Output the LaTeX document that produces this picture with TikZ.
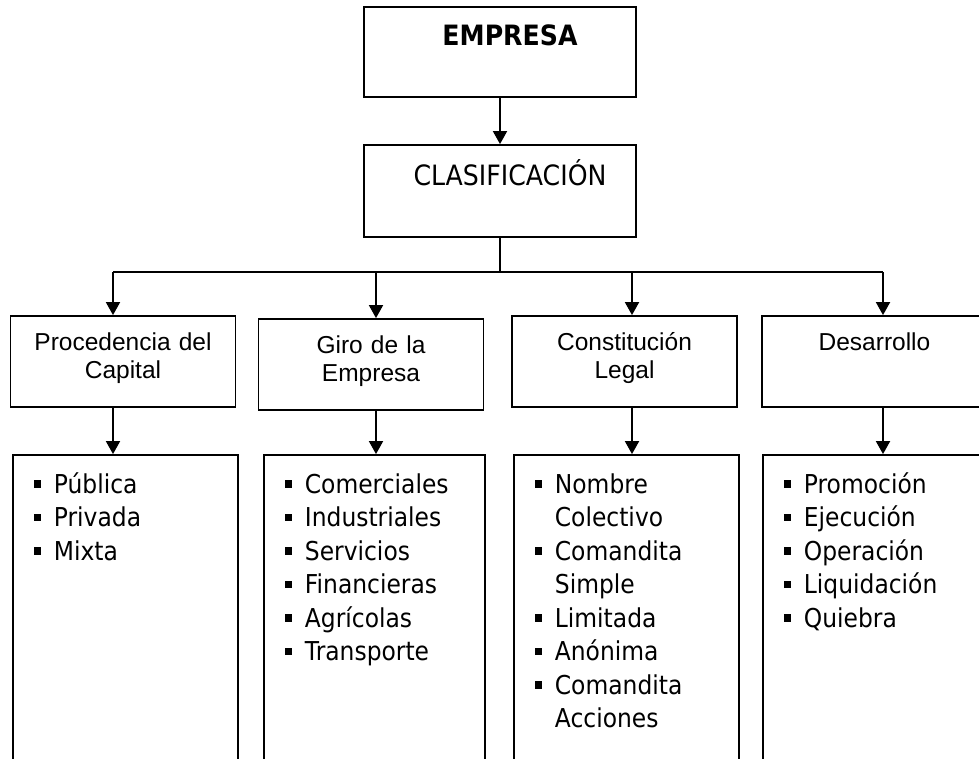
\documentclass[tikz,border=0pt]{standalone}
\usepackage{fontspec}
\setmainfont{DejaVu Sans}[FakeStretch=0.9]
\newfontfamily\arialfont{Liberation Sans}
\usetikzlibrary{arrows.meta, positioning}
\newcommand{\bul}{\makebox[20pt][l]{\rule[5.5pt]{7.5pt}{7.5pt}}}
\newcommand{\cont}{\hspace*{20pt}}

\begin{document}
\begin{tikzpicture}[x=1pt, y=-1pt]
	% Define styles
	\tikzset{
		topblock/.style={rectangle, draw, line width=1.8pt, minimum width=272pt, inner sep=0pt, anchor=base, font=\fontsize{28}{33}\selectfont},
		catblock/.style={rectangle, draw, line width=1.8pt, text width=217pt, inner xsep=4pt, inner ysep=0pt, align=center, anchor=base, text height=34pt, text depth=57pt, font=\arialfont\fontsize{24.5}{28}\selectfont},
		listblock/.style={rectangle, draw, line width=1.8pt, text width=183pt, inner xsep=21pt, inner ysep=0pt, align=left, anchor=base west, text height=38pt, text depth=290pt, font=\fontsize{26}{33.5}\selectfont},
		line/.style={draw, line width=1.8pt},
		arrowline/.style={line, -{Triangle[length=13pt, width=14pt]}}
	}
	\useasboundingbox (0,0) rectangle (979,758);
	\clip (0,0) rectangle (979,758);
	
	% Nodes
	\node[topblock, text height=38pt, text depth=52pt] (empresa) at (500,45) {\hspace*{20pt}\textbf{EMPRESA}};
	\node[topblock, text height=40pt, text depth=52pt] (clasif) at (500,185) {\hspace*{20pt}CLASIFICACIÓN};
	
	\node[catblock] (capital) at (123,350) {Procedencia del\\Capital};
	\node[catblock] (giro) at (371,353) {Giro de la\\Empresa};
	\node[catblock] (legal) at (624.5,350) {Constitución\\Legal};
	\node[catblock] (desarrollo) at (874.5,350) {Desarrollo};
	
	\node[listblock] (origen) at (12,493) {\bul Pública\\ \bul Privada\\ \bul Mixta};
	\node[listblock, text width=179pt] (sector) at (263,493) {\bul Comerciales\\ \bul Industriales\\ \bul Servicios\\ \bul Financieras\\ \bul Agrícolas\\ \bul Transporte};
	\node[listblock] (sociedad) at (513,493) {\bul Nombre\\ \cont Colectivo\\ \bul Comandita\\ \cont Simple\\ \bul Limitada\\ \bul Anónima\\ \bul Comandita\\ \cont Acciones};
	\node[listblock] (etapa) at (762,493) {\bul Promoción\\ \bul Ejecución\\ \bul Operación\\ \bul Liquidación\\ \bul Quiebra};
	
	\coordinate (b1) at (113,272);
	\coordinate (b2) at (376,272);
	\coordinate (b3) at (632,272);
	\coordinate (b4) at (883,272);
	
	% Arrows
	\draw[arrowline] (empresa) -- (clasif);
	\draw[line] (clasif.south) -- (clasif.south |- b1);
	\draw[line] (b1) -- (b4);
	
	\draw[arrowline] (b1) -- (b1 |- capital.north);
	\draw[arrowline] (b2) -- (b2 |- giro.north);
	\draw[arrowline] (b3) -- (b3 |- legal.north);
	\draw[arrowline] (b4) -- (b4 |- desarrollo.north);
	
	\draw[arrowline] (b1 |- capital.south) -- (b1 |- origen.north);
	\draw[arrowline] (b2 |- giro.south) -- (b2 |- sector.north);
	\draw[arrowline] (b3 |- legal.south) -- (b3 |- sociedad.north);
	\draw[arrowline] (b4 |- desarrollo.south) -- (b4 |- etapa.north);
	
\end{tikzpicture}
\end{document}
